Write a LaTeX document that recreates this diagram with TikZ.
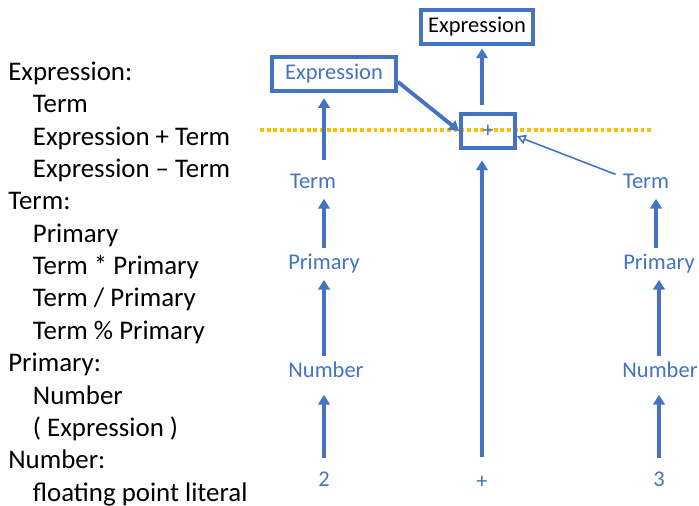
\documentclass[tikz,border=0pt]{standalone}
\usepackage{fontspec}
\setmainfont{Carlito}
\usetikzlibrary{positioning, arrows.meta, calc}
\definecolor{treeblue}{RGB}{68,114,196}
\definecolor{cutgold}{RGB}{255,192,0}
\tikzset{
    sym/.style = {text=treeblue, font=\fontsize{12.8}{14}\selectfont, inner sep=0pt,
                        text height=8pt, text depth=2.5pt},
    box/.style = {rectangle, draw=treeblue, line width=2.2pt, inner sep=0pt,
                        font=\fontsize{12.8}{14}\selectfont},
    up/.style = {draw=treeblue, line width=2.2pt, -{Triangle[length=5.5pt,width=6.5pt]},
                        shorten <=4pt, shorten >=3pt},
    hint/.style = {draw=treeblue, line width=0.9pt, -{Triangle[open,length=5pt,width=5.5pt]}},
    cut/.style = {draw=cutgold, line width=1.8pt, dash pattern=on 2.2pt off 1.6pt},
    rule/.style = {font=\fontsize{15.3}{18}\selectfont, anchor=base west, inner sep=0pt}
}
\newcommand{\ind}{\hspace*{14pt}}

\begin{document}
\begin{tikzpicture}[x=0.02cm, y=-0.02cm]
    \useasboundingbox (0,0) rectangle (699,506);
    % grammar
    \foreach \txt [count=\i from 0] in {Expression:, \ind Term, \ind Expression + Term,
        \ind Expression -- Term, Term:, \ind Primary, \ind Term * Primary,
        \ind Term / Primary, \ind Term \% Primary, Primary:, \ind Number,
        \ind ( Expression ), Number:, \ind floating point literal}
        \node[rule] (rule\i) at (8, 80.5+32.35*\i) {\txt};
    % tree
    \coordinate (cutl) at (260,130);
    \coordinate (cutr) at (652,130);
    \draw[cut] (cutl) -- (cutr);
    \node (top) [box, minimum width=2.24cm, minimum height=0.68cm] at (477,27) {Expression};
    \node (exl) [box, text=treeblue, minimum width=2.48cm, minimum height=0.68cm] at (334,74) {Expression};
    \node (plus) [box, text=treeblue, minimum width=1.08cm, minimum height=0.68cm] at (488,131) {+};
    \node (tl) [sym] at (313,184) {Term};
    \node (pl) [sym] at (324,265) {Primary};
    \node (nl) [sym] at (326,373) {Number};
    \node (two) [sym] at (324,482) {2};
    \node (tr) [sym] at (646,184) {Term};
    \node (pr) [sym] at (659,265) {Primary};
    \node (nr) [sym] at (660,373) {Number};
    \node (three) [sym] at (659,482) {3};
    \node (bplus) [sym] at (482,484) {+};
    \draw[up, shorten <=8pt, shorten >=7pt] (two.north) -- (two.north |- nl.south);
    \draw[up] (nl.north -| pl) -- (pl.south);
    \draw[up] (pl.north) -- (pl.north |- tl.south);
    \draw[up, shorten <=8pt] (pl |- tl.north) -- (pl |- exl.south);
    \draw[up, shorten <=8pt, shorten >=7pt] (three.north) -- (three.north |- nr.south);
    \draw[up] (nr.north -| pr) -- (pr.south);
    \draw[up] (pr.north -| 656,0) -- (656,0 |- tr.south);
    \draw[up, shorten <=10pt, shorten >=6pt] (bplus.north) -- (bplus.north |- plus.south);
    \draw[up, shorten >=1.5pt] (bplus |- plus.north) -- (bplus |- top.south);
    \draw[up, shorten <=0pt, shorten >=0pt] ([yshift=-4.5pt]exl.east) -- (plus.west);
    \draw[hint] ([xshift=-4pt]tr.north west) -- ([yshift=-3pt]plus.east);
\end{tikzpicture}
\end{document}
